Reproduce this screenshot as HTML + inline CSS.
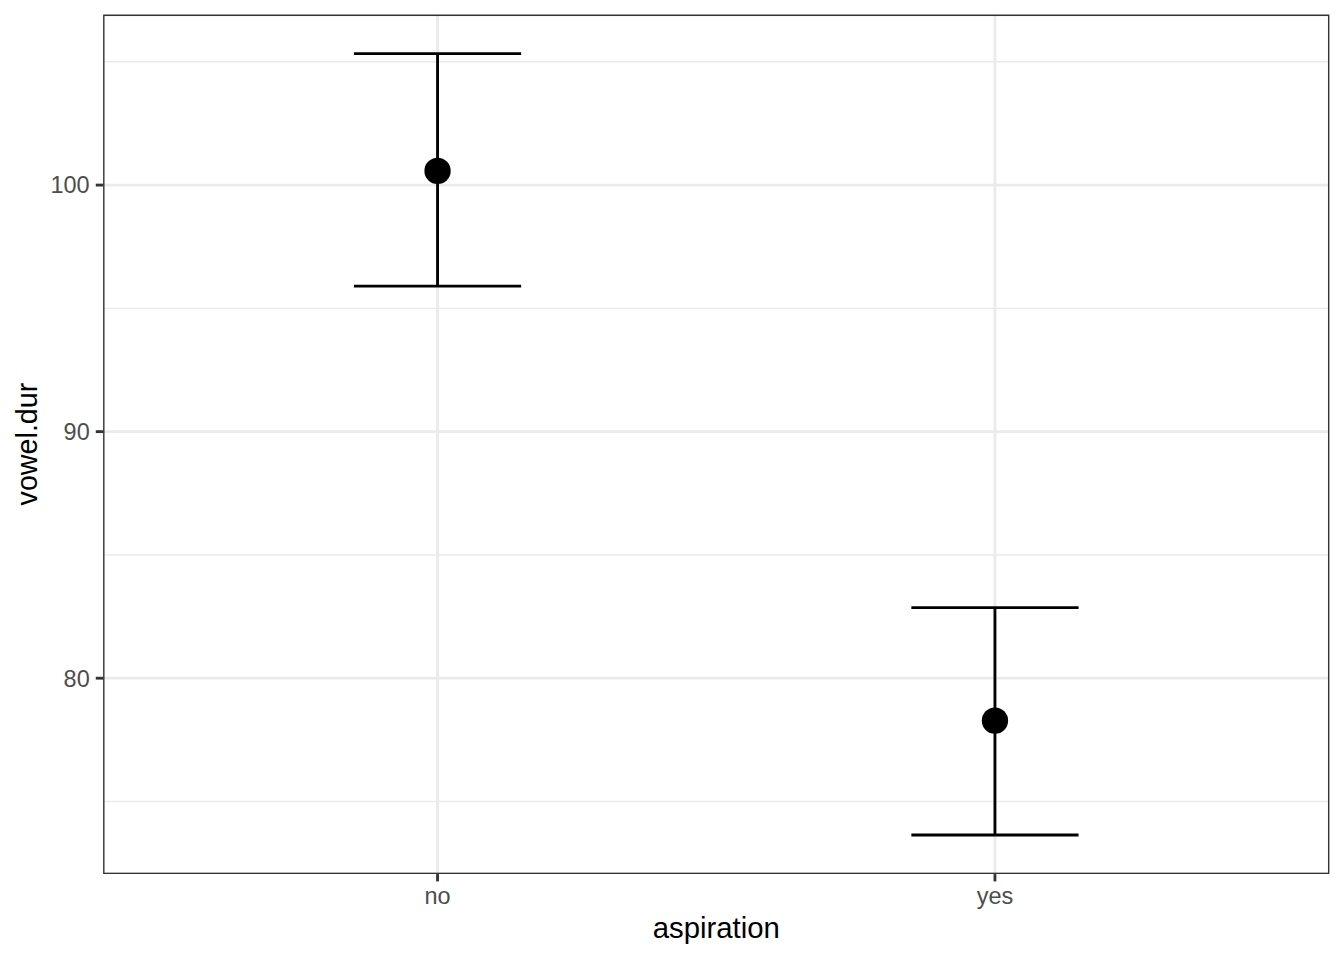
<!DOCTYPE html>
<html><head><meta charset="utf-8">
<style>
html,body{margin:0;padding:0;background:#fff;}
body{width:1344px;height:960px;overflow:hidden;}
svg{display:block;}
text{font-family:"Liberation Sans", sans-serif;}
</style></head>
<body>
<svg width="1344" height="960" viewBox="0 0 1344 960">
<rect x="0" y="0" width="1344" height="960" fill="#fff"/>
<defs><clipPath id="pc"><rect x="103.10" y="14.62" width="1226.30" height="859.46"/></clipPath></defs>
<g clip-path="url(#pc)">
<g stroke="#EBEBEB" stroke-width="1.420" fill="none">
<line x1="103.10" x2="1329.40" y1="61.80" y2="61.80"/>
<line x1="103.10" x2="1329.40" y1="308.36" y2="308.36"/>
<line x1="103.10" x2="1329.40" y1="554.92" y2="554.92"/>
<line x1="103.10" x2="1329.40" y1="801.48" y2="801.48"/>
</g>
<g stroke="#EBEBEB" stroke-width="2.845" fill="none">
<line x1="103.10" x2="1329.40" y1="185.08" y2="185.08"/>
<line x1="103.10" x2="1329.40" y1="431.64" y2="431.64"/>
<line x1="103.10" x2="1329.40" y1="678.20" y2="678.20"/>
<line x1="437.55" x2="437.55" y1="14.62" y2="874.08"/>
<line x1="994.95" x2="994.95" y1="14.62" y2="874.08"/>
</g>
<g stroke="#000" stroke-width="2.845" fill="none">
<line x1="437.55" x2="437.55" y1="53.69" y2="286.20"/>
<line x1="353.93" x2="521.16" y1="53.69" y2="53.69"/>
<line x1="353.93" x2="521.16" y1="286.20" y2="286.20"/>
<line x1="994.95" x2="994.95" y1="607.60" y2="835.00"/>
<line x1="911.34" x2="1078.57" y1="607.60" y2="607.60"/>
<line x1="911.34" x2="1078.57" y1="835.00" y2="835.00"/>
</g>
<circle cx="437.55" cy="170.90" r="13.15" fill="#000"/>
<circle cx="994.95" cy="720.65" r="13.15" fill="#000"/>
<rect x="103.10" y="14.62" width="1226.30" height="859.46" fill="none" stroke="#333333" stroke-width="2.845"/>
</g>
<g stroke="#333333" stroke-width="2.845" fill="none">
<line x1="95.77" x2="103.10" y1="185.08" y2="185.08"/>
<line x1="95.77" x2="103.10" y1="431.64" y2="431.64"/>
<line x1="95.77" x2="103.10" y1="678.20" y2="678.20"/>
<line x1="437.55" x2="437.55" y1="874.08" y2="881.41"/>
<line x1="994.95" x2="994.95" y1="874.08" y2="881.41"/>
</g>
<g fill="#4D4D4D" font-size="23.47">
<text x="89.7" y="193" text-anchor="end">100</text>
<text x="89.7" y="440" text-anchor="end">90</text>
<text x="89.7" y="687" text-anchor="end">80</text>
<text x="437.55" y="904.0" text-anchor="middle">no</text>
<text x="994.95" y="904.0" text-anchor="middle">yes</text>
</g>
<text x="716.25" y="938.4" text-anchor="middle" font-size="29.33" fill="#000">aspiration</text>
<text transform="translate(36.5,444.05) rotate(-90) scale(0.978,1)" x="0" y="0" text-anchor="middle" font-size="29.33" fill="#000">vowel.dur</text>
</svg>
</body></html>
